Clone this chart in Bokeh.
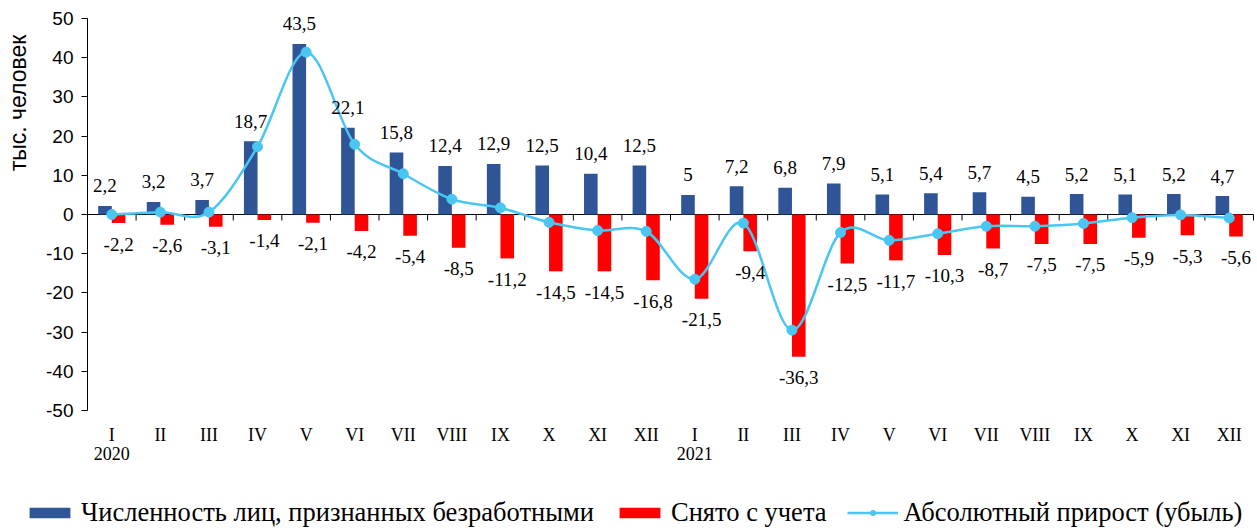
import numpy as np
from bokeh.plotting import figure
from bokeh.models import (Range1d, LinearAxis, FixedTicker,
                          Legend, LegendItem, ColumnDataSource)
from bokeh.core.properties import value
from bokeh.embed import file_html
from bokeh.resources import INLINE

# ---------------- data ----------------
months = ["I", "II", "III", "IV", "V", "VI", "VII", "VIII", "IX", "X", "XI", "XII",
          "I", "II", "III", "IV", "V", "VI", "VII", "VIII", "IX", "X", "XI", "XII"]
years = ["2020", "2021"]
registered = [2.2, 3.2, 3.7, 18.7, 43.5, 22.1, 15.8, 12.4, 12.9, 12.5, 10.4, 12.5,
              5.0, 7.2, 6.8, 7.9, 5.1, 5.4, 5.7, 4.5, 5.2, 5.1, 5.2, 4.7]
removed = [-2.2, -2.6, -3.1, -1.4, -2.1, -4.2, -5.4, -8.5, -11.2, -14.5, -14.5, -16.8,
           -21.5, -9.4, -36.3, -12.5, -11.7, -10.3, -8.7, -7.5, -7.5, -5.9, -5.3, -5.6]
net_change = [0.0, 0.6, 0.6, 17.3, 41.4, 17.9, 10.4, 3.9, 1.7, -2.0, -4.1, -4.3,
              -16.5, -2.2, -29.5, -4.6, -6.6, -4.9, -3.0, -3.0, -2.3, -0.8, -0.1, -0.9]
y_ticks = [-50, -40, -30, -20, -10, 0, 10, 20, 30, 40, 50]
legend_labels = ["Численность лиц, признанных безработными", "Снято с учета",
                 "Абсолютный прирост (убыль)"]

BLUE = "#2F5597"
RED = "#FF0000"
CYAN = "#4AC6F3"
SERIF = "Liberation Serif"
SANS = "Liberation Sans"


def fmt(v):
    return f"{v:g}".replace(".", ",")


n = len(months)
idx = np.arange(n, dtype=float)
off = 0.14
bw = 0.28

# ---- canvas geometry (pixels) ----
W, H = 1257, 528
AX_L, AX_R = 87, 1253      # horizontal extent of the value area
AX_T, AX_B = 18, 410       # vertical extent of the value area (50 .. -50)
y_lo, y_hi = -50, 50
ppu_y = (AX_B - AX_T) / (y_hi - y_lo)
ppu_x = (AX_R - AX_L) / n
x_start = -0.5 - AX_L / ppu_x
x_end = n - 0.5 + (W - AX_R) / ppu_x
y_start = y_lo - (H - AX_B) / ppu_y
y_end = y_hi + AX_T / ppu_y

p = figure(width=W, height=H,
           x_range=Range1d(x_start, x_end), y_range=Range1d(y_start, y_end),
           x_axis_location=None, y_axis_location=None,
           output_backend="svg", toolbar_location=None,
           min_border_left=0, min_border_right=0, min_border_top=0,
           min_border_bottom=0)
p.outline_line_color = None
p.xgrid.visible = False
p.ygrid.visible = False

# ---- y axis ----
yax = LinearAxis(ticker=FixedTicker(ticks=y_ticks), fixed_location=-0.5,
                 bounds=(y_lo, y_hi),
                 major_label_overrides={t: str(t) for t in y_ticks})
yax.axis_line_color = "black"
yax.major_tick_line_color = "black"
yax.major_tick_out = 6
yax.major_tick_in = 0
yax.minor_tick_line_color = None
yax.major_label_text_font = SANS
yax.major_label_text_font_size = "19px"
yax.major_label_text_color = "black"
yax.major_label_standoff = 8
p.add_layout(yax, "left")

# ---- y axis title (upper part, like the original) ----
ytl = LinearAxis(ticker=FixedTicker(ticks=[]), fixed_location=-0.5,
                 bounds=(8, 49), axis_label="тыс. человек")
ytl.axis_line_color = None
ytl.major_tick_line_color = None
ytl.minor_tick_line_color = None
ytl.axis_label_text_font = SANS
ytl.axis_label_text_font_size = "23px"
ytl.axis_label_text_font_style = "normal"
ytl.axis_label_text_color = "black"
ytl.axis_label_standoff = 57
p.add_layout(ytl, "left")

# ---- x axis (month labels) ----
xax = LinearAxis(ticker=FixedTicker(ticks=list(range(n))), fixed_location=y_lo,
                 major_label_overrides={i: m for i, m in enumerate(months)})
xax.axis_line_color = None
xax.major_tick_line_color = None
xax.minor_tick_line_color = None
xax.major_label_text_font = SERIF
xax.major_label_text_font_size = "18px"
xax.major_label_text_color = "black"
xax.major_label_standoff = 8
p.add_layout(xax, "below")

# ---- x axis (year labels) ----
xax2 = LinearAxis(ticker=FixedTicker(ticks=[0, 12]), fixed_location=y_lo,
                  major_label_overrides={0: years[0], 12: years[1]})
xax2.axis_line_color = None
xax2.major_tick_line_color = None
xax2.minor_tick_line_color = None
xax2.major_label_text_font = SERIF
xax2.major_label_text_font_size = "18px"
xax2.major_label_text_color = "black"
xax2.major_label_standoff = 30
p.add_layout(xax2, "below")

# ---- zero line with category-boundary ticks ----
bounds = np.arange(n + 1) - 0.5
p.segment(x0=[bounds[0]], y0=[0], x1=[bounds[-1]], y1=[0],
          line_color="black", line_width=1)
tick_len = 6 / ppu_y
p.segment(x0=bounds, y0=np.zeros_like(bounds), x1=bounds,
          y1=np.full_like(bounds, -tick_len), line_color="black", line_width=1)

# ---- bars ----
r_blue = p.vbar(x=idx - off, top=registered, bottom=0, width=bw,
                fill_color=BLUE, line_color=None)
r_red = p.vbar(x=idx + off, top=0, bottom=removed, width=bw,
               fill_color=RED, line_color=None)

# ---- smooth line (cubic Bezier segments through the points) ----
y = np.array(net_change, dtype=float)
x0 = idx[:-1]
x1 = idx[1:]
y0 = y[:-1]
y1 = y[1:]
yp = np.concatenate([[y[0]], y[:-2]])
yn = np.concatenate([y[2:], [y[-1]]])
xp = np.concatenate([[idx[0]], idx[:-2]])
xn = np.concatenate([idx[2:], [idx[-1]]])
cx0 = x0 + (x1 - xp) / 6.0
cy0 = y0 + (y1 - yp) / 6.0
cx1 = x1 - (xn - x0) / 6.0
cy1 = y1 - (yn - y0) / 6.0
p.bezier(x0=x0, y0=y0, x1=x1, y1=y1, cx0=cx0, cy0=cy0, cx1=cx1, cy1=cy1,
         line_color=CYAN, line_width=2.5)
r_pts = p.scatter(x=idx, y=net_change, size=10, marker="circle",
                  fill_color=CYAN, line_color=CYAN)
# legend sample for the line (kept outside the visible range)
r_lsample = p.line(x=[x_start - 5, x_start - 4], y=[0, 0],
                   line_color=CYAN, line_width=2.5)

# ---- data labels ----
src_b = ColumnDataSource(dict(x=idx - off, y=registered,
                              t=[fmt(v) for v in registered]))
p.text(x="x", y="y", text="t", source=src_b, y_offset=-20,
       text_align="center", text_baseline="middle",
       text_font=value(SERIF), text_font_size="19px", text_color="black")
src_r = ColumnDataSource(dict(x=idx + off, y=removed,
                              t=[fmt(v) for v in removed]))
p.text(x="x", y="y", text="t", source=src_r, y_offset=21,
       text_align="center", text_baseline="middle",
       text_font=value(SERIF), text_font_size="19px", text_color="black")

# ---- legend ----
legend = Legend(items=[
    LegendItem(label=legend_labels[0], renderers=[r_blue]),
    LegendItem(label=legend_labels[1], renderers=[r_red]),
    LegendItem(label=legend_labels[2], renderers=[r_lsample, r_pts]),
], orientation="horizontal", location=(24, 0))
legend.label_text_font = SERIF
legend.label_text_font_size = "26.5px"
legend.label_text_color = "black"
legend.glyph_width = 51
legend.glyph_height = 13
legend.label_standoff = 6
legend.spacing = 20
legend.padding = 0
legend.margin = 0
legend.border_line_color = None
legend.background_fill_alpha = 0
p.add_layout(legend, "center")

open("out.html", "w").write(file_html(p, INLINE))
